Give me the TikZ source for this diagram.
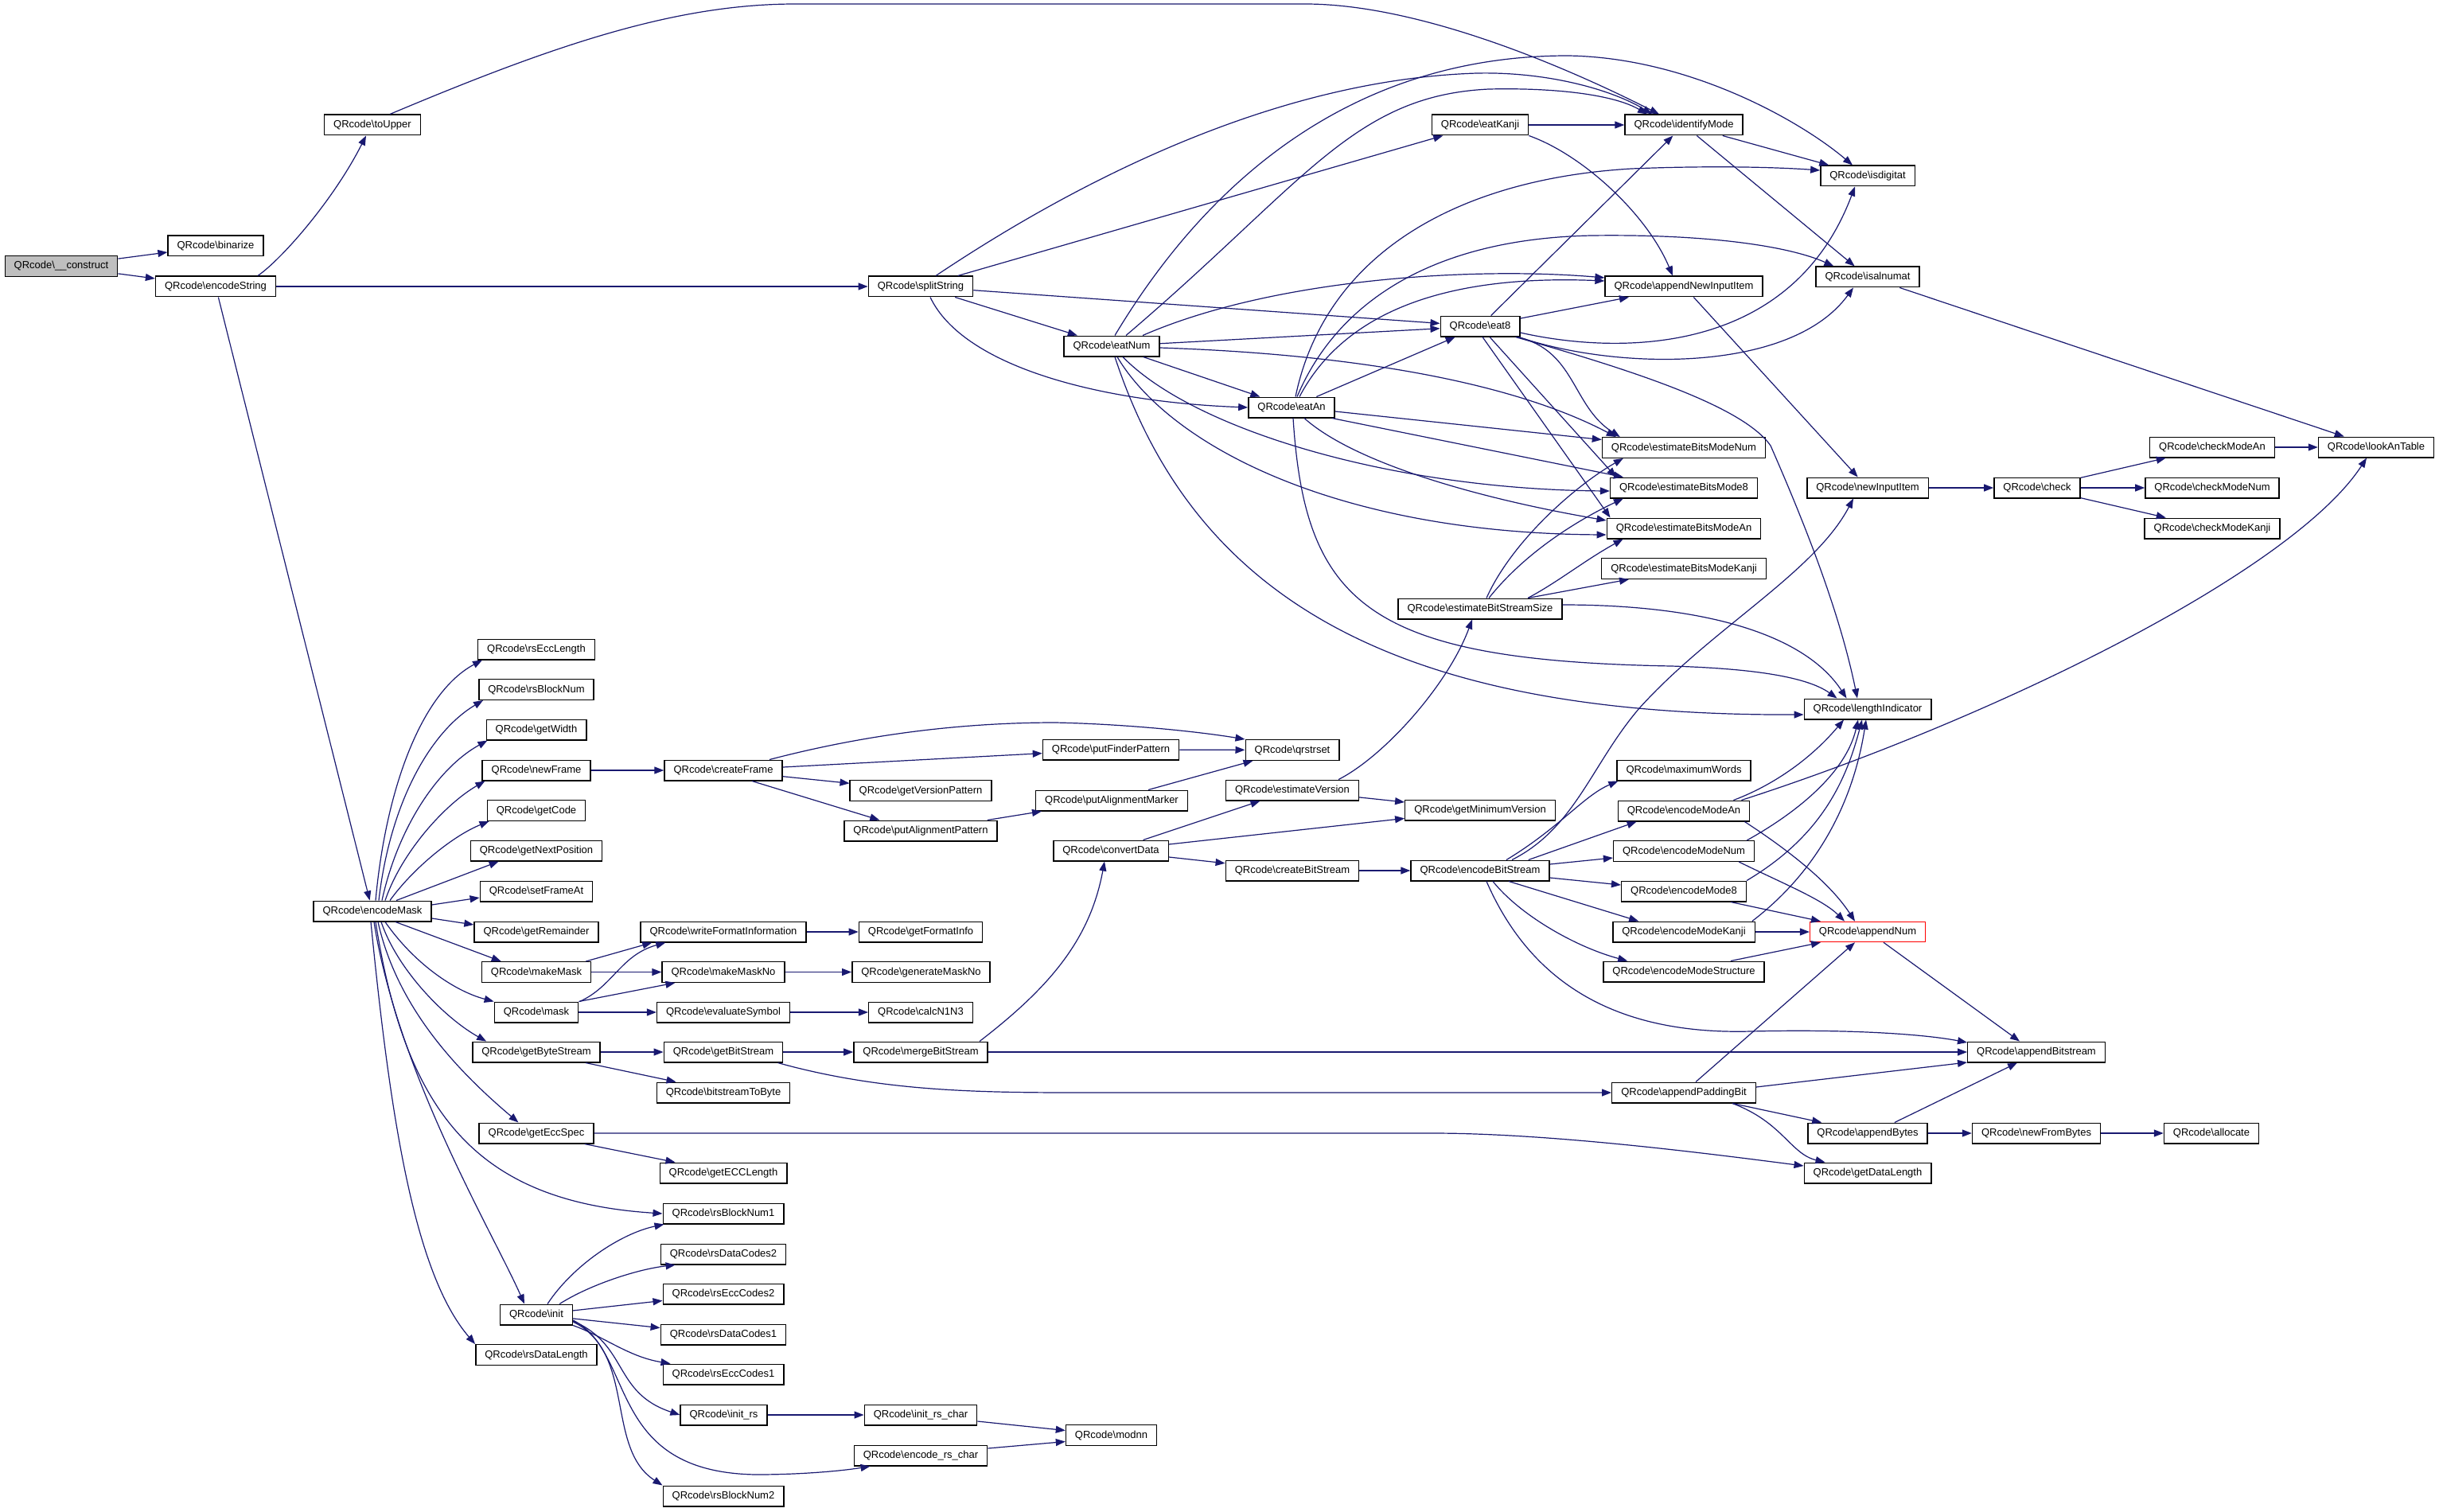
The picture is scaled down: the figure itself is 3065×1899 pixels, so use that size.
\documentclass[tikz,border=0pt]{standalone}
\usepackage{fontspec}
\newfontfamily\qrfont{Liberation Sans}
\usetikzlibrary{arrows.meta,calc}
\definecolor{edgeblue}{HTML}{191970}
\definecolor{rootgray}{HTML}{BFBFBF}
\newcommand{\qrl}[1]{QRcode\textbackslash #1}
\tikzset{
  box/.style={draw=black, fill=white, line width=0.7pt, inner xsep=5.75pt, inner ysep=0pt,
    minimum height=12.8pt, text height=4.9pt, text depth=1.4pt,
    font=\qrfont\fontsize{6.5pt}{7.5pt}\selectfont},
  conn/.style={draw=edgeblue, line width=0.6pt, -{Triangle[length=6pt,width=4.5pt]}},
}
\begin{document}
\begin{tikzpicture}[x=0.5pt,y=-0.5pt]
\fill[white] (0,0) rectangle (3065,1899);
\path[use as bounding box] (0,0) rectangle (3065,1899);
% ---------------- nodes ----------------
\node[box, fill=rootgray] (con) at (77,334.5) {\qrl{\_\_construct}};
\node[box] (bin) at (271,309) {\qrl{binarize}};
\node[box] (encS) at (271,360) {\qrl{encodeString}};
\node[box] (toUp) at (468,157) {\qrl{toUpper}};
\node[box] (split) at (1157,360) {\qrl{splitString}};
\node[box] (eatK) at (1860,157) {\qrl{eatKanji}};
\node[box] (idM) at (2116,157) {\qrl{identifyMode}};
\node[box] (isd) at (2347,221) {\qrl{isdigitat}};
\node[box] (isa) at (2347,348) {\qrl{isalnumat}};
\node[box] (ani) at (2116,360) {\qrl{appendNewInputItem}};
\node[box] (eat8) at (1860,410) {\qrl{eat8}};
\node[box] (eatN) at (1397,435) {\qrl{eatNum}};
\node[box] (eatA) at (1623,512) {\qrl{eatAn}};
\node[box] (ebNum) at (2116,562.5) {\qrl{estimateBitsModeNum}};
\node[box] (eb8) at (2116,613) {\qrl{estimateBitsMode8}};
\node[box] (ebAn) at (2116,664) {\qrl{estimateBitsModeAn}};
\node[box] (ebK) at (2116,714.5) {\qrl{estimateBitsModeKanji}};
\node[box] (ebss) at (1860,765) {\qrl{estimateBitStreamSize}};
\node[box] (nii) at (2347,613) {\qrl{newInputItem}};
\node[box] (chk) at (2560,613) {\qrl{check}};
\node[box] (cmAn) at (2780,562) {\qrl{checkModeAn}};
\node[box] (cmNum) at (2780,613) {\qrl{checkModeNum}};
\node[box] (cmK) at (2780,664) {\qrl{checkModeKanji}};
\node[box] (look) at (2986,562) {\qrl{lookAnTable}};
\node[box] (len) at (2347,891) {\qrl{lengthIndicator}};
\node[box] (encM) at (468,1145) {\qrl{encodeMask}};
\node[box] (rsEcc) at (674,816) {\qrl{rsEccLength}};
\node[box] (rsBN) at (674,866.5) {\qrl{rsBlockNum}};
\node[box] (gW) at (674,917) {\qrl{getWidth}};
\node[box] (nF) at (674,968) {\qrl{newFrame}};
\node[box] (gC) at (674,1018.5) {\qrl{getCode}};
\node[box] (gNP) at (674,1069) {\qrl{getNextPosition}};
\node[box] (sFA) at (674,1120) {\qrl{setFrameAt}};
\node[box] (gR) at (674,1171) {\qrl{getRemainder}};
\node[box] (mM) at (674,1221.5) {\qrl{makeMask}};
\node[box] (msk) at (674,1272) {\qrl{mask}};
\node[box] (gBS) at (674,1322) {\qrl{getByteStream}};
\node[box] (gES) at (674,1424) {\qrl{getEccSpec}};
\node[box] (init) at (674,1652) {\qrl{init}};
\node[box] (rsDL) at (674,1702.5) {\qrl{rsDataLength}};
\node[box] (cF) at (909,968) {\qrl{createFrame}};
\node[box] (pFP) at (1396,942) {\qrl{putFinderPattern}};
\node[box] (gVP) at (1157,993.5) {\qrl{getVersionPattern}};
\node[box] (pAP) at (1157,1044) {\qrl{putAlignmentPattern}};
\node[box] (pAM) at (1397,1006) {\qrl{putAlignmentMarker}};
\node[box] (qrs) at (1624,942.5) {\qrl{qrstrset}};
\node[box] (cD) at (1396,1069) {\qrl{convertData}};
\node[box] (eV) at (1624,993) {\qrl{estimateVersion}};
\node[box] (gMV) at (1860,1018) {\qrl{getMinimumVersion}};
\node[box] (cBS) at (1624,1094) {\qrl{createBitStream}};
\node[box] (eBS) at (1860,1094) {\qrl{encodeBitStream}};
\node[box] (mW) at (2116,968) {\qrl{maximumWords}};
\node[box] (emAn) at (2116,1019) {\qrl{encodeModeAn}};
\node[box] (emNum) at (2116,1069.5) {\qrl{encodeModeNum}};
\node[box] (em8) at (2116,1120) {\qrl{encodeMode8}};
\node[box] (emK) at (2116,1171) {\qrl{encodeModeKanji}};
\node[box] (emS) at (2116,1221) {\qrl{encodeModeStructure}};
\node[box, draw=red, line width=0.5pt] (aN) at (2347,1171) {\qrl{appendNum}};
\node[box] (aBs) at (2559,1322) {\qrl{appendBitstream}};
\node[box] (aPB) at (2116,1373) {\qrl{appendPaddingBit}};
\node[box] (aBy) at (2347,1424) {\qrl{appendBytes}};
\node[box] (nFB) at (2559,1424) {\qrl{newFromBytes}};
\node[box] (alloc) at (2779,1424) {\qrl{allocate}};
\node[box] (gDL) at (2347,1474) {\qrl{getDataLength}};
\node[box] (wFI) at (909,1171) {\qrl{writeFormatInformation}};
\node[box] (gFI) at (1157,1171) {\qrl{getFormatInfo}};
\node[box] (mMN) at (909,1221.5) {\qrl{makeMaskNo}};
\node[box] (gMN) at (1157.5,1221.5) {\qrl{generateMaskNo}};
\node[box] (eS) at (909,1272) {\qrl{evaluateSymbol}};
\node[box] (cN) at (1157,1272) {\qrl{calcN1N3}};
\node[box] (gBit) at (909,1322) {\qrl{getBitStream}};
\node[box] (mBS) at (1157,1322) {\qrl{mergeBitStream}};
\node[box] (bTB) at (909,1373) {\qrl{bitstreamToByte}};
\node[box] (gECC) at (909,1474) {\qrl{getECCLength}};
\node[box] (rsBN1) at (909,1525) {\qrl{rsBlockNum1}};
\node[box] (rsDC2) at (909,1576) {\qrl{rsDataCodes2}};
\node[box] (rsEC2) at (909,1626) {\qrl{rsEccCodes2}};
\node[box] (rsDC1) at (909,1677) {\qrl{rsDataCodes1}};
\node[box] (rsEC1) at (909,1727) {\qrl{rsEccCodes1}};
\node[box] (iRs) at (909.5,1778) {\qrl{init\_rs}};
\node[box] (iRC) at (1157,1778) {\qrl{init\_rs\_char}};
\node[box] (eRC) at (1157,1829) {\qrl{encode\_rs\_char}};
\node[box] (modnn) at (1396.5,1803.5) {\qrl{modnn}};
\node[box] (rsBN2) at (909,1880) {\qrl{rsBlockNum2}};
% ---------------- edges ----------------
\draw[conn] (con) -- (bin);
\draw[conn] (con) -- (encS);
\draw[conn] ($(encS.north)+(53,0)$) .. controls (355,325) and (420,250) .. ($(toUp.south)+(-8,0)$);
\draw[conn] (encS) -- (split);
\draw[conn] (encS) -- (encM);
\draw[conn] ($(toUp.north)+(22,0)$) .. controls (700,55) and (850,5) .. (1000,5) -- (1640,5) .. controls (1780,5) and (1960,80) .. ($(idM.north)+(-31,0)$);
\draw[conn] (split) -- (eatK);
\draw[conn] ($(split.north)+(19,0)$) .. controls (1350,230) and (1600,100) .. (1856,92) .. controls (1950,90) and (2030,115) .. ($(idM.north)+(-40,0)$);
\draw[conn] (split) -- (eat8);
\draw[conn] (split) -- (eatN);
\draw[conn] ($(split.south)+(12,0)$) .. controls (1210,460) and (1380,505) .. (eatA.west);
\draw[conn] (eatK) -- (idM);
\draw[conn] (eatK.south east) .. controls (1990,195) and (2070,270) .. ($(ani.north)+(-14,0)$);
\draw[conn] (idM) -- (isd);
\draw[conn] (idM) -- (isa);
\draw[conn] (eat8) -- (idM);
\draw[conn] (eat8) -- (ani);
\draw[conn] ($(eat8.east)+(0,8)$) .. controls (2030,445) and (2250,450) .. ($(isd.south)+(-16,0)$);
\draw[conn] ($(eat8.south east)+(-2,0)$) .. controls (2030,465) and (2250,470) .. ($(isa.south)+(-18,0)$);
\draw[conn] ($(eat8.south east)+(-4,0)$) .. controls (1980,440) and (1975,510) .. ($(ebNum.north west)+(23,0)$);
\draw[conn] ($(eat8.south)+(12,0)$) -- ($(eb8.north west)+(8,0)$);
\draw[conn] ($(eat8.south)+(3,0)$) -- ($(ebAn.north west)+(5,0)$);
\draw[conn] ($(eat8.south east)+(-6,0)$) .. controls (2050,465) and (2190,510) .. (2225,560) .. controls (2260,640) and (2310,760) .. ($(len.north)+(-13,0)$);
\draw[conn] (eatN) -- (eat8);
\draw[conn] (eatN) -- (eatA);
\draw[conn] ($(eatN.north)+(39,0)$) .. controls (1600,350) and (1850,335) .. ($(ani.west)+(0,-11)$);
\draw[conn] ($(eatN.north)+(4,0)$) .. controls (1480,290) and (1650,70) .. (1970,70) .. controls (2120,72) and (2260,150) .. ($(isd.north)+(-19,0)$);
\draw[conn] ($(eatN.north)+(18,0)$) .. controls (1640,230) and (1700,120) .. (1871,112) .. controls (1960,110) and (2030,120) .. ($(idM.north)+(-46,0)$);
\draw[conn] ($(eatN.east)+(0,2)$) .. controls (1700,445) and (1900,480) .. ($(ebNum.north west)+(18,0)$);
\draw[conn] ($(eatN.south)+(14,0)$) .. controls (1500,540) and (1750,615) .. ($(eb8.west)+(0,4)$);
\draw[conn] ($(eatN.south)+(7,0)$) .. controls (1470,560) and (1680,670) .. ($(ebAn.west)+(0,8)$);
\draw[conn] ($(eatN.south)+(4,0)$) .. controls (1500,750) and (1750,900) .. ($(len.west)+(0,7)$);
\draw[conn] (eatA) -- (eat8);
\draw[conn] ($(eatA.north)+(5,0)$) .. controls (1665,320) and (1830,225) .. (2050,212) .. controls (2150,208) and (2230,210) .. ($(isd.west)+(0,-7)$);
\draw[conn] ($(eatA.north)+(7,0)$) .. controls (1680,380) and (1800,300) .. (2000,296) .. controls (2150,294) and (2250,310) .. ($(isa.north west)+(23,0)$);
\draw[conn] ($(eatA.north)+(10,0)$) .. controls (1690,390) and (1820,345) .. ($(ani.west)+(0,-7)$);
\draw[conn] ($(eatA.east)+(0,5)$) -- ($(ebNum.west)+(0,-10)$);
\draw[conn] ($(eatA.south east)+(-4,0)$) -- ($(eb8.north west)+(17,0)$);
\draw[conn] ($(eatA.south)+(16,0)$) .. controls (1700,580) and (1850,625) .. ($(ebAn.west)+(0,-10)$);
\draw[conn] ($(eatA.south)+(2,0)$) .. controls (1640,760) and (1720,830) .. (2100,837) .. controls (2200,840) and (2270,850) .. ($(len.north west)+(42,0)$);
\draw[conn] (ani) -- (nii);
\draw[conn] (isa) -- (look);
\draw[conn] (nii) -- (chk);
\draw[conn] (chk) -- (cmAn);
\draw[conn] (chk) -- (cmNum);
\draw[conn] (chk) -- (cmK);
\draw[conn] (cmAn) -- (look);
\draw[conn] ($(ebss.north)+(8,0)$) .. controls (1900,680) and (1980,610) .. ($(ebNum.south west)+(27,0)$);
\draw[conn] ($(ebss.north)+(11,0)$) .. controls (1920,690) and (1990,650) .. ($(eb8.south west)+(17,0)$);
\draw[conn] ($(ebss.north)+(60,0)$) .. controls (1960,730) and (1990,705) .. ($(ebAn.south west)+(21,0)$);
\draw[conn] ($(ebss.north)+(60,0)$) -- ($(ebK.south west)+(35,0)$);
\draw[conn] ($(ebss.east)+(0,-5)$) .. controls (2150,760) and (2270,800) .. ($(len.north west)+(54,0)$);
\draw[conn] ($(eV.north east)+(-26,0)$) .. controls (1740,950) and (1820,860) .. ($(ebss.south)+(-10,0)$);
\draw[conn] (eV) -- (gMV);
\draw[conn] (cD) -- (eV);
\draw[conn] (cD) -- (gMV);
\draw[conn] (cD) -- (cBS);
\draw[conn] (cBS) -- (eBS);
\draw[conn] ($(eBS.north)+(40,0)$) .. controls (1980,1040) and (2000,960) .. (2060,890) .. controls (2150,790) and (2280,720) .. ($(nii.south)+(-18,0)$);
\draw[conn] ($(eBS.north)+(33,0)$) .. controls (1960,1040) and (1990,1000) .. ($(mW.south west)+(2,0)$);
\draw[conn] ($(eBS.north east)+(-27,0)$) -- ($(emAn.south west)+(24,0)$);
\draw[conn] ($(eBS.east)+(0,-8)$) -- ($(emNum.west)+(0,8.5)$);
\draw[conn] ($(eBS.east)+(0,9)$) -- ($(em8.west)+(0,-8)$);
\draw[conn] ($(eBS.south)+(36,0)$) -- ($(emK.north west)+(33,0)$);
\draw[conn] ($(eBS.south)+(16,0)$) .. controls (1910,1150) and (1980,1190) .. ($(emS.north west)+(31,0)$);
\draw[conn] ($(eBS.south)+(8,0)$) .. controls (1930,1250) and (2050,1300) .. (2200,1296) .. controls (2330,1293) and (2420,1300) .. ($(aBs.west)+(0,-12)$);
\draw[conn] ($(emAn.north east)+(-21,0)$) .. controls (2220,990) and (2270,960) .. ($(len.south)+(-30,0)$);
\draw[conn] ($(emAn.north east)+(-11,0)$) .. controls (2500,905) and (2880,720) .. ($(look.south)+(-12,0)$);
\draw[conn] ($(emAn.south east)+(-7,0)$) .. controls (2250,1070) and (2300,1110) .. ($(aN.north)+(-16,0)$);
\draw[conn] ($(emNum.north east)+(-10,0)$) .. controls (2260,1020) and (2320,970) .. ($(len.south)+(-12,0)$);
\draw[conn] ($(emNum.south east)+(-20,0)$) .. controls (2240,1110) and (2290,1130) .. ($(aN.north)+(-29,0)$);
\draw[conn] (em8.north east) .. controls (2290,1050) and (2320,980) .. ($(len.south)+(-7,0)$);
\draw[conn] ($(em8.south east)+(-20,0)$) -- ($(aN.north west)+(14,0)$);
\draw[conn] ($(emK.north east)+(-4,0)$) .. controls (2290,1090) and (2330,1000) .. ($(len.south)+(-2,0)$);
\draw[conn] (emK) -- (aN);
\draw[conn] ($(emS.north east)+(-43,0)$) -- ($(aN.south west)+(14,0)$);
\draw[conn] ($(aN.south)+(20,0)$) -- ($(aBs.north)+(-21,0)$);
\draw[conn] ($(mBS.north)+(74,0)$) .. controls (1320,1240) and (1370,1180) .. ($(cD.south)+(-8,0)$);
\draw[conn] (mBS) -- (aBs);
\draw[conn] (gBit) -- (mBS);
\draw[conn] ($(gBit.south east)+(-7,0)$) .. controls (1120,1375) and (1250,1373) .. (1400,1373) -- (aPB.west);
\draw[conn] (gBS) -- (gBit);
\draw[conn] ($(gBS.south east)+(-19,0)$) -- ($(bTB.north west)+(25,0)$);
\draw[conn] ($(gES.south east)+(-12,0)$) -- ($(gECC.north west)+(20,0)$);
\draw[conn] (gES.east) -- (1800,1424) .. controls (1950,1424) and (2150,1450) .. ($(gDL.west)+(0,-9)$);
\draw[conn] ($(aPB.north)+(15,0)$) -- ($(aN.south)+(-16,0)$);
\draw[conn] ($(aPB.east)+(0,-7)$) -- ($(aBs.west)+(0,13)$);
\draw[conn] ($(aPB.south east)+(-30,0)$) -- ($(aBy.north west)+(18,0)$);
\draw[conn] ($(aPB.south east)+(-30,0)$) .. controls (2240,1410) and (2250,1450) .. ($(gDL.north west)+(27,0)$);
\draw[conn] ($(aBy.north east)+(-42,0)$) -- ($(aBs.south)+(-24,0)$);
\draw[conn] (aBy) -- (nFB);
\draw[conn] (nFB) -- (alloc);
\draw[conn] ($(encM.north)+(4,0)$) .. controls (485,990) and (530,870) .. ($(rsEcc.south west)+(6,0)$);
\draw[conn] ($(encM.north)+(8,0)$) .. controls (490,1010) and (540,920) .. ($(rsBN.south west)+(6,0)$);
\draw[conn] ($(encM.north)+(12,0)$) .. controls (500,1040) and (550,965) .. ($(gW.south west)+(2,0)$);
\draw[conn] ($(encM.north)+(16,0)$) .. controls (505,1070) and (560,1010) .. ($(nF.south west)+(4,0)$);
\draw[conn] ($(encM.north)+(22,0)$) .. controls (520,1090) and (570,1050) .. ($(gC.south west)+(3,0)$);
\draw[conn] ($(encM.north)+(30,0)$) -- ($(gNP.south west)+(36,0)$);
\draw[conn] ($(encM.east)+(0,-8)$) -- ($(sFA.west)+(0,8)$);
\draw[conn] ($(encM.east)+(0,9)$) -- ($(gR.west)+(0,-9)$);
\draw[conn] ($(encM.south)+(29,0)$) -- ($(mM.north west)+(25,0)$);
\draw[conn] ($(encM.south)+(16,0)$) .. controls (520,1210) and (570,1245) .. (msk.north west);
\draw[conn] ($(encM.south)+(11,0)$) .. controls (500,1220) and (560,1280) .. ($(gBS.north west)+(18,0)$);
\draw[conn] ($(encM.south)+(7,0)$) .. controls (500,1270) and (580,1350) .. ($(gES.north west)+(50,0)$);
\draw[conn] ($(encM.south)+(4,0)$) .. controls (510,1400) and (600,1510) .. (rsBN1.west);
\draw[conn] ($(encM.south)+(2,0)$) .. controls (500,1350) and (620,1550) .. ($(init.north)+(-15,0)$);
\draw[conn] ($(encM.south)+(-2,0)$) .. controls (490,1400) and (520,1600) .. (rsDL.north west);
\draw[conn] (nF) -- (cF);
\draw[conn] (cF) -- (pFP);
\draw[conn] (cF) -- (gVP);
\draw[conn] ($(cF.south)+(36,0)$) -- ($(pAP.north west)+(45,0)$);
\draw[conn] ($(cF.north)+(58,0)$) .. controls (1080,925) and (1200,908) .. (1326,908) .. controls (1420,910) and (1510,920) .. (qrs.north west);
\draw[conn] (pFP) -- (qrs);
\draw[conn] ($(pAP.north east)+(-13,0)$) -- ($(pAM.south west)+(8,0)$);
\draw[conn] ($(pAM.north east)+(-50,0)$) -- ($(qrs.south west)+(10,0)$);
\draw[conn] ($(mM.north east)+(-7,0)$) -- ($(wFI.south west)+(15,0)$);
\draw[conn] (mM) -- (mMN);
\draw[conn] ($(msk.north east)+(1,0)$) .. controls (770,1240) and (780,1200) .. ($(wFI.south west)+(32,0)$);
\draw[conn] (msk.north east) -- ($(mMN.south west)+(17,0)$);
\draw[conn] (msk) -- (eS);
\draw[conn] (wFI) -- (gFI);
\draw[conn] (mMN) -- (gMN);
\draw[conn] (eS) -- (cN);
\draw[conn] ($(init.north)+(14,0)$) .. controls (720,1590) and (780,1550) .. ($(rsBN1.south west)+(2,0)$);
\draw[conn] ($(init.north east)+(-17,0)$) .. controls (740,1615) and (800,1595) .. ($(rsDC2.south west)+(19,0)$);
\draw[conn] (init) -- (rsEC2);
\draw[conn] (init) -- (rsDC1);
\draw[conn] (init.south east) .. controls (760,1680) and (790,1705) .. ($(rsEC1.north west)+(10,0)$);
\draw[conn] ($(init.east)+(0,8)$) .. controls (790,1690) and (770,1750) .. (iRs.west);
\draw[conn] ($(init.east)+(0,7)$) .. controls (800,1700) and (760,1850) .. (950,1853) .. controls (1010,1853) and (1060,1848) .. ($(eRC.south west)+(21,0)$);
\draw[conn] ($(init.east)+(0,9)$) .. controls (800,1700) and (760,1820) .. (rsBN2.north west);
\draw[conn] (iRs) -- (iRC);
\draw[conn] ($(iRC.east)+(0,8)$) -- ($(modnn.west)+(0,-6)$);
\draw[conn] ($(eRC.east)+(0,-9)$) -- ($(modnn.west)+(0,8)$);
\end{tikzpicture}
\end{document}
